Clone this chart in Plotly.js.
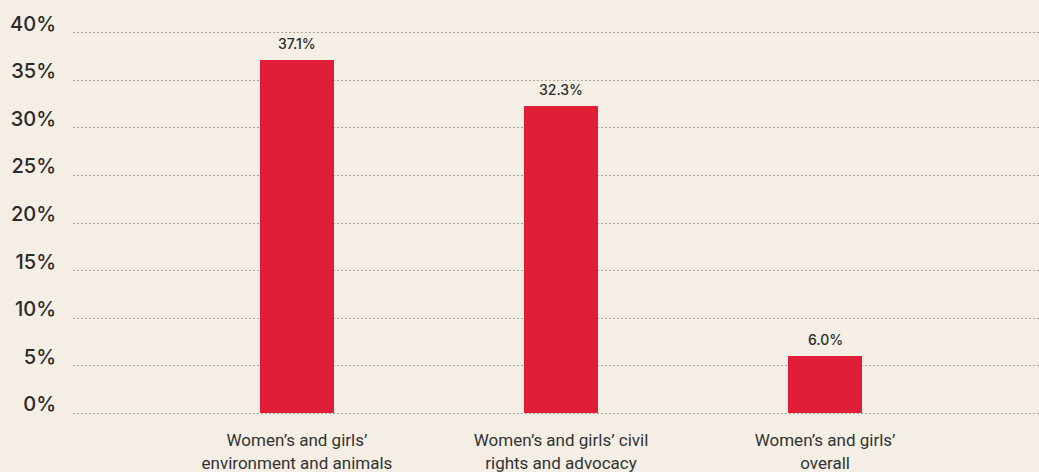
<!DOCTYPE html>
<html>
<head>
<meta charset="utf-8">
<script src="https://cdn.plot.ly/plotly-3.0.1.min.js"></script>
<style>
html,body{margin:0;padding:0;background:#f4eee5;}
#chart{width:1039px;height:472px;}
</style>
</head>
<body>
<div id="chart"></div>
<script>
const categories = [
  "Women’s and girls’<br>environment and animals",
  "Women’s and girls’ civil<br>rights and advocacy",
  "Women’s and girls’<br>overall"
];
const values = [37.1, 32.3, 6.0];
const valueLabels = ["37.1%", "32.3%", "6.0%"];
const yTickVals = [0, 5, 10, 15, 20, 25, 30, 35, 40];
const yTickText = ["0%", "5%", "10%", "15%", "20%", "25%", "30%", "35%", "40%"];

const xPos = categories.map((c, i) => i);

const trace = {
  type: "bar",
  x: xPos,
  y: values,
  width: 0.28,
  marker: {color: "#e01e37"},
  hoverinfo: "skip"
};

const annotations = values.map((v, i) => ({
  x: xPos[i],
  y: v,
  xref: "x",
  yref: "y",
  text: valueLabels[i],
  showarrow: false,
  yanchor: "bottom",
  yshift: 6,
  font: {family: "Inter, Lato, sans-serif", size: 14, color: "#2b2b2b", weight: 500}
}));

const layout = {
  width: 1039,
  height: 472,
  paper_bgcolor: "#f4eee5",
  plot_bgcolor: "rgba(0,0,0,0)",
  margin: {l: 73, r: 0, t: 28, b: 54},
  showlegend: false,
  bargap: 0,
  annotations: annotations,
  xaxis: {
    range: [-0.848, 2.81],
    tickvals: xPos,
    ticktext: categories,
    showgrid: false,
    zeroline: false,
    showline: false,
    ticks: "outside",
    ticklen: 7,
    tickcolor: "rgba(0,0,0,0)",
    tickfont: {family: "Roboto, 'Noto Sans', sans-serif", size: 17, color: "#333333"}
  },
  yaxis: {
    range: [-0.5, 40.5],
    tickvals: yTickVals,
    ticktext: yTickText,
    showgrid: true,
    gridcolor: "#a9a49d",
    griddash: "1.5px,2.5px",
    gridwidth: 1,
    zeroline: false,
    showline: false,
    ticks: "",
    ticklabelposition: "outside top",
    ticklabelshift: 5,
    ticklabelstandoff: 16,
    tickfont: {family: "Inter, Lato, sans-serif", size: 20, color: "#2a2a2a", weight: 500}
  }
};

Plotly.newPlot("chart", [trace], layout, {displayModeBar: false, staticPlot: true});
</script>
</body>
</html>
